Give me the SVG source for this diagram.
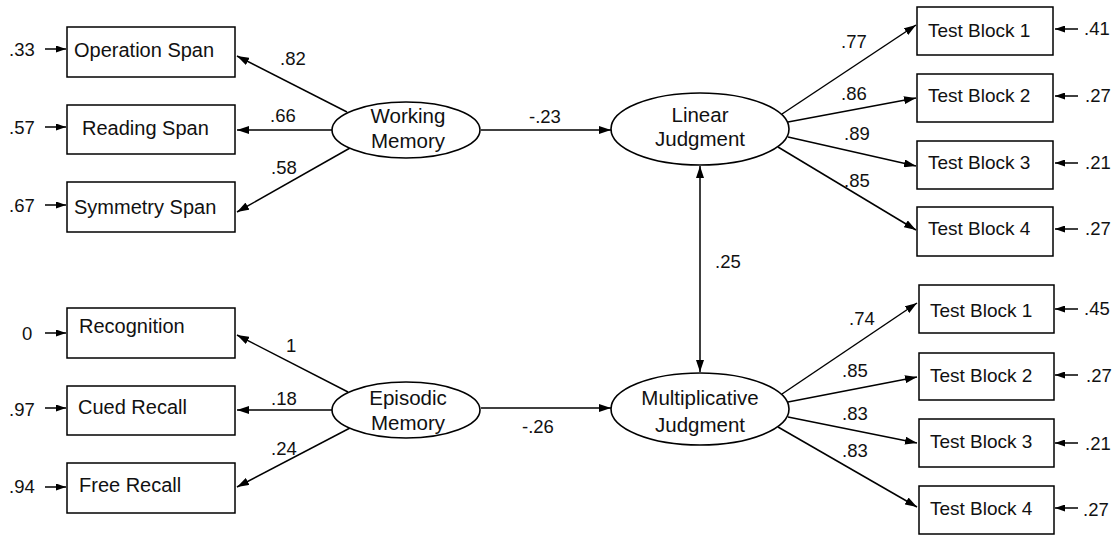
<svg xmlns="http://www.w3.org/2000/svg" width="1114" height="536" viewBox="0 0 1114 536">
<style>
.box{fill:#fff;stroke:#000;stroke-width:1.5}
.ell{fill:#fff;stroke:#000;stroke-width:1.6}
.t{font-family:"Liberation Sans",Arial,sans-serif;font-size:20px;fill:#111}
.tb{font-family:"Liberation Sans",Arial,sans-serif;font-size:19px;fill:#111}
.e{font-family:"Liberation Sans",Arial,sans-serif;font-size:20.5px;fill:#111;text-anchor:middle}
.n{font-family:"Liberation Sans",Arial,sans-serif;font-size:18.5px;fill:#111}
.c{stroke:#000;stroke-width:1.5;fill:none}
.a{marker-end:url(#ah)}
.r{marker-end:url(#sh)}
</style>
<defs>
<marker id="ah" markerUnits="userSpaceOnUse" markerWidth="12" markerHeight="8" refX="12" refY="4" orient="auto-start-reverse"><path d="M0,0 L12,4 L0,8 z" fill="#000"/></marker>
<marker id="sh" markerUnits="userSpaceOnUse" markerWidth="10" markerHeight="7" refX="10" refY="3.5" orient="auto"><path d="M0,0 L10,3.5 L0,7 z" fill="#000"/></marker>
</defs>

<g id="connectors">
<line class="c a" x1="347" y1="112" x2="237" y2="56"/>
<line class="c a" x1="332" y1="130" x2="237" y2="130"/>
<line class="c a" x1="350" y1="148" x2="237" y2="212"/>
<line class="c a" x1="348" y1="392" x2="237" y2="335"/>
<line class="c a" x1="332" y1="410" x2="237" y2="410"/>
<line class="c a" x1="350" y1="428" x2="237" y2="487"/>
<line class="c a" x1="481" y1="130" x2="611" y2="130"/>
<line class="c a" x1="481" y1="408" x2="611" y2="408"/>
<line class="c a" x1="700" y1="166" x2="700" y2="372" marker-start="url(#ah)"/>
<line class="c a" x1="782" y1="114" x2="916" y2="25"/>
<line class="c a" x1="788" y1="122" x2="916" y2="98"/>
<line class="c a" x1="788" y1="137" x2="916" y2="166"/>
<line class="c a" x1="778" y1="147" x2="916" y2="230"/>
<line class="c a" x1="782" y1="394" x2="917" y2="303"/>
<line class="c a" x1="788" y1="402" x2="917" y2="377"/>
<line class="c a" x1="788" y1="417" x2="917" y2="443"/>
<line class="c a" x1="778" y1="427" x2="917" y2="507"/>
<line class="c r" x1="45" y1="49" x2="66" y2="49"/>
<line class="c r" x1="45" y1="127" x2="66" y2="127"/>
<line class="c r" x1="45" y1="205" x2="66" y2="205"/>
<line class="c r" x1="45" y1="333" x2="66" y2="333"/>
<line class="c r" x1="45" y1="408" x2="66" y2="408"/>
<line class="c r" x1="45" y1="487" x2="66" y2="487"/>
<line class="c r" x1="1078" y1="29" x2="1055" y2="29"/>
<line class="c r" x1="1078" y1="96" x2="1055" y2="96"/>
<line class="c r" x1="1078" y1="163" x2="1055" y2="163"/>
<line class="c r" x1="1078" y1="229" x2="1055" y2="229"/>
<line class="c r" x1="1078" y1="309" x2="1055" y2="309"/>
<line class="c r" x1="1078" y1="375" x2="1055" y2="375"/>
<line class="c r" x1="1078" y1="443" x2="1055" y2="443"/>
<line class="c r" x1="1078" y1="508" x2="1055" y2="508"/>
<text class="n" x="280" y="65">.82</text>
<text class="n" x="270" y="122">.66</text>
<text class="n" x="271" y="174">.58</text>
<text class="n" x="286" y="352">1</text>
<text class="n" x="271" y="405">.18</text>
<text class="n" x="271" y="455">.24</text>
<text class="n" x="529" y="123">-.23</text>
<text class="n" x="522" y="433">-.26</text>
<text class="n" x="715" y="268">.25</text>
<text class="n" x="841" y="48">.77</text>
<text class="n" x="841" y="100">.86</text>
<text class="n" x="844" y="140">.89</text>
<text class="n" x="844" y="187">.85</text>
<text class="n" x="849" y="325">.74</text>
<text class="n" x="842" y="377">.85</text>
<text class="n" x="842" y="420">.83</text>
<text class="n" x="842" y="457">.83</text>
<text class="n" x="9" y="56">.33</text>
<text class="n" x="9" y="134">.57</text>
<text class="n" x="9" y="212">.67</text>
<text class="n" x="22" y="340">0</text>
<text class="n" x="9" y="416">.97</text>
<text class="n" x="9" y="493">.94</text>
<text class="n" x="1084" y="35">.41</text>
<text class="n" x="1085" y="102">.27</text>
<text class="n" x="1085" y="169">.21</text>
<text class="n" x="1085" y="235">.27</text>
<text class="n" x="1084" y="315">.45</text>
<text class="n" x="1086" y="382">.27</text>
<text class="n" x="1085" y="450">.21</text>
<text class="n" x="1083" y="516">.27</text>
</g>

<g id="n-opspan"><rect class="box" x="67" y="27" width="168" height="50"/><text class="t" x="74" y="57">Operation Span</text></g>
<g id="n-readspan"><rect class="box" x="67" y="105" width="168" height="49"/><text class="t" x="82" y="135">Reading Span</text></g>
<g id="n-symspan"><rect class="box" x="67" y="182" width="168" height="50"/><text class="t" x="74" y="214">Symmetry Span</text></g>
<g id="n-recog"><rect class="box" x="67" y="308" width="168" height="50"/><text class="t" x="79" y="333">Recognition</text></g>
<g id="n-cued"><rect class="box" x="67" y="386" width="168" height="49"/><text class="t" x="78" y="414">Cued Recall</text></g>
<g id="n-free"><rect class="box" x="67" y="463" width="168" height="50"/><text class="t" x="79" y="492">Free Recall</text></g>

<g id="n-wm"><ellipse class="ell" cx="406" cy="130" rx="74" ry="28"/><text class="e" x="408" y="123">Working</text><text class="e" x="408" y="148">Memory</text></g>
<g id="n-em"><ellipse class="ell" cx="406" cy="410" rx="74" ry="28"/><text class="e" x="408" y="405">Episodic</text><text class="e" x="408" y="430">Memory</text></g>
<g id="n-lj"><ellipse class="ell" cx="700" cy="129" rx="89" ry="36"/><text class="e" x="700" y="122">Linear</text><text class="e" x="700" y="146">Judgment</text></g>
<g id="n-mj"><ellipse class="ell" cx="700" cy="409" rx="89" ry="36"/><text class="e" x="700" y="405">Multiplicative</text><text class="e" x="700" y="432">Judgment</text></g>

<g id="n-l1"><rect class="box" x="917" y="7" width="136" height="48"/><text class="tb" x="928" y="37">Test Block 1</text></g>
<g id="n-l2"><rect class="box" x="917" y="74" width="136" height="48"/><text class="tb" x="928" y="102">Test Block 2</text></g>
<g id="n-l3"><rect class="box" x="917" y="141" width="136" height="48"/><text class="tb" x="928" y="169">Test Block 3</text></g>
<g id="n-l4"><rect class="box" x="917" y="207" width="136" height="49"/><text class="tb" x="928" y="235">Test Block 4</text></g>
<g id="n-m1"><rect class="box" x="919" y="285" width="135" height="48"/><text class="tb" x="930" y="317">Test Block 1</text></g>
<g id="n-m2"><rect class="box" x="919" y="353" width="135" height="47"/><text class="tb" x="930" y="382">Test Block 2</text></g>
<g id="n-m3"><rect class="box" x="919" y="419" width="135" height="48"/><text class="tb" x="930" y="448">Test Block 3</text></g>
<g id="n-m4"><rect class="box" x="919" y="486" width="135" height="48"/><text class="tb" x="930" y="515">Test Block 4</text></g>
</svg>
